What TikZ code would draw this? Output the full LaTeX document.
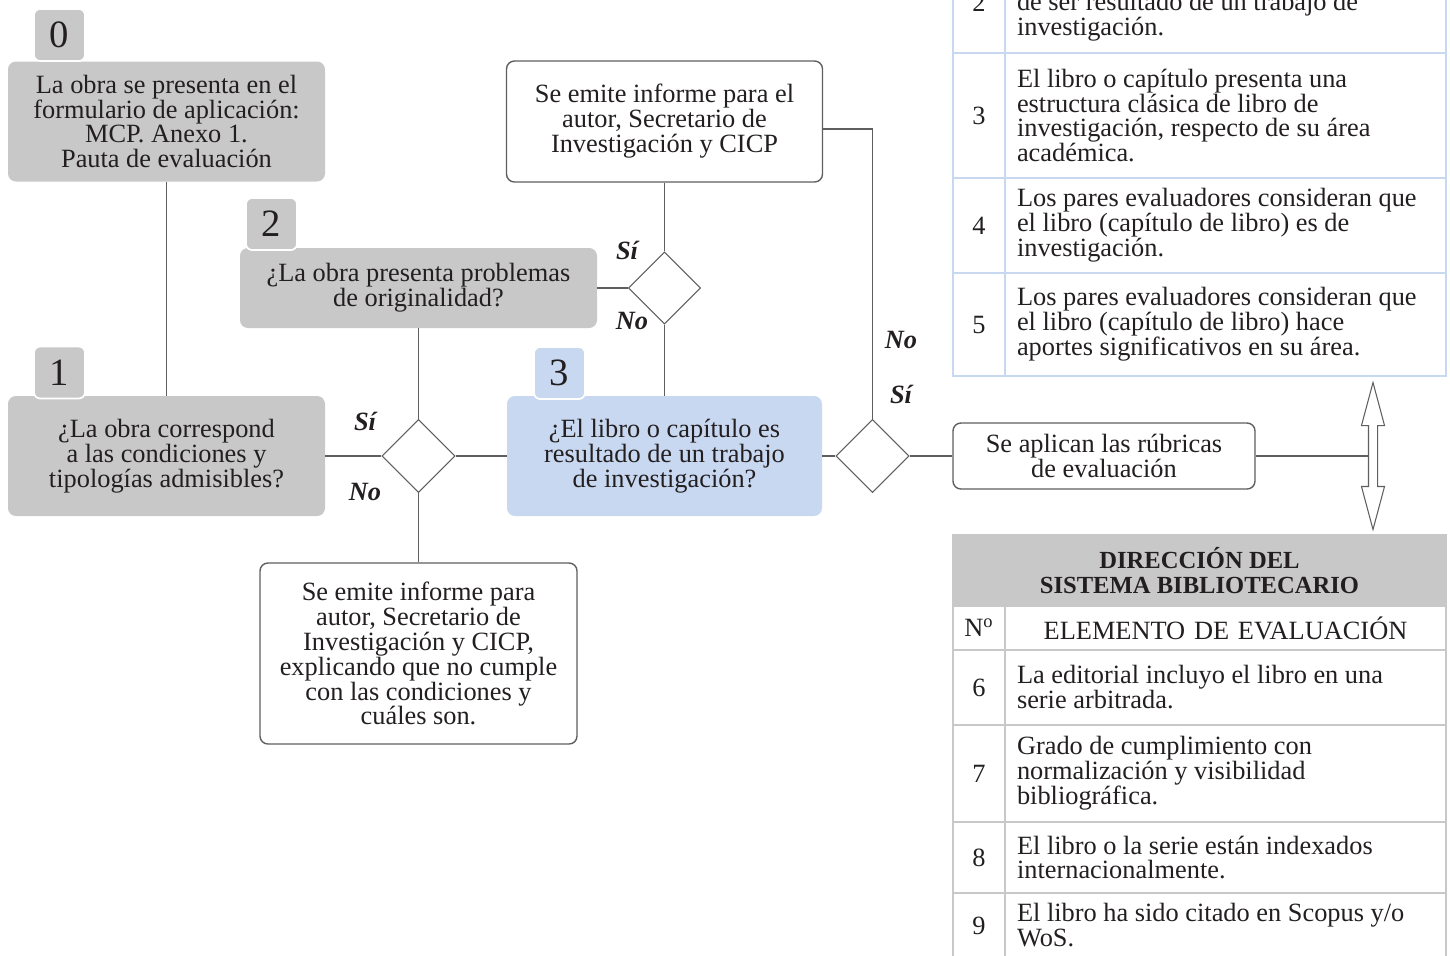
\documentclass[tikz,border=0pt]{standalone}
\usepackage{fontspec}
\setmainfont{Liberation Serif}
\usepackage{xcolor}
\usepackage{tikz}
\usetikzlibrary{shapes.geometric,shapes.arrows,positioning,calc}

\definecolor{gris}{RGB}{200,200,200}
\definecolor{azul}{RGB}{201,216,241}
\definecolor{linea}{RGB}{95,95,95}
\definecolor{tinta}{RGB}{35,31,32}
\newcommand{\cuerpo}{\fontsize{15pt}{14.2pt}\selectfont}

\begin{document}
\begin{tikzpicture}[
  every node/.style={font=\cuerpo, text=tinta},
  caja/.style={rounded corners=4.5pt, minimum width=6.34cm, minimum height=2.4cm, align=center, inner sep=2pt},
  gcaja/.style={caja, fill=gris},
  acaja/.style={caja, fill=azul},
  bcaja/.style={caja, draw=linea, line width=0.8pt, fill=white},
  paso/.style={fill=#1, draw=white, line width=1pt, rounded corners=3.5pt, minimum width=1.02cm, minimum height=1.04cm, inner sep=0, font=\fontsize{22pt}{22pt}\selectfont},
  dec/.style={diamond, draw=linea, line width=0.6pt, fill=white, minimum size=1.46cm, inner sep=0},
  resp/.style={font=\cuerpo\bfseries\itshape},
  con/.style={draw=linea, line width=0.8pt},
  ncelda/.style={draw=#1, line width=1.5pt, anchor=north west, outer sep=0, minimum width=1.04cm, inner sep=0},
  tcelda/.style={draw=#1, line width=1.5pt, anchor=north west, outer sep=0, text width=8.34cm, inner xsep=0.24cm, inner ysep=0, align=flush left},
]
\useasboundingbox (0,0) rectangle (29,-19.1);
\clip (0,0) rectangle (29,-19.1);

% flujo
\node[gcaja] (c0) at (3.33,-2.43) {La obra se presenta en el\\formulario de aplicación:\\MCP. Anexo 1.\\Pauta de evaluación};
\node[paso=gris] (p0) at (1.19,-0.70) {0};
\node[gcaja] (c1) at (3.33,-9.12) {¿La obra correspond\\a las condiciones y\\tipologías admisibles?};
\node[paso=gris] (p1) at (1.19,-7.45) {1};
\node[gcaja, minimum width=7.14cm, minimum height=1.6cm] (c2) at (8.37,-5.76) {¿La obra presenta problemas\\de originalidad?};
\node[paso=gris] (p2) at (5.43,-4.48) {2};
\node[acaja, minimum width=6.3cm] (c3) at (13.29,-9.12) {¿El libro o capítulo es\\resultado de un trabajo\\de investigación?};
\node[paso=azul] (p3) at (11.19,-7.46) {3};
\node[bcaja, minimum width=6.32cm, minimum height=2.42cm] (inf1) at (13.29,-2.43) {Se emite informe para el\\autor, Secretario de\\Investigación y CICP};
\node[bcaja, minimum height=3.62cm] (inf2) at (8.37,-13.07) {Se emite informe para\\autor, Secretario de\\Investigación y CICP,\\explicando que no cumple\\con las condiciones y\\cuáles son.};
\node[bcaja, minimum width=6.04cm, minimum height=1.32cm] (rub) at (22.08,-9.12) {Se aplican las rúbricas\\de evaluación};
\node[dec] (d1) at (8.37,-9.12) {};
\node[dec, minimum size=1.44cm] (d2) at (13.29,-5.76) {};
\node[dec] (d3) at (17.45,-9.12) {};
\node[double arrow, draw=linea, fill=white, line width=0.6pt, shape border rotate=90, minimum height=2.94cm, minimum width=0.44cm, double arrow head extend=0.14cm, double arrow tip angle=30, inner sep=0.08cm] (dbl) at (27.46,-9.12) {};

\draw[con] (c0) -- (c1);
\draw[con] (c1) -- (d1);
\draw[con] (d1) -- (c3);
\draw[con] (d1) -- (c2);
\draw[con] (d1) -- (inf2);
\draw[con] (c2) -- (d2);
\draw[con] (d2) -- (inf1);
\draw[con] (d2) -- (c3);
\draw[con] (c3) -- (d3);
\draw[con] ([yshift=-0.15cm]inf1.east) -| (d3.north);
\draw[con] (d3) -- (rub);
\draw[con] (rub) -- (dbl.west);

\node[resp] (si1) at (7.30,-8.42) {Sí};
\node[resp] (no1) at (7.30,-9.84) {No};
\node[resp] (si2) at (12.54,-5.00) {Sí};
\node[resp] (no2) at (12.64,-6.42) {No};
\node[resp] (no3) at (18.02,-6.80) {No};
\node[resp] (si3) at (18.02,-7.88) {Sí};

% tabla superior
\node[ncelda=azul, minimum height=2cm] (n2) at (19.06,0.94) {2};
\node[tcelda=azul, minimum height=2cm] (t2) at (n2.north east) {\strut\\de ser resultado de un trabajo de\\investigación.};
\node[ncelda=azul, minimum height=2.5cm] (n3) at (n2.south west) {3};
\node[tcelda=azul, minimum height=2.5cm] (t3) at (n3.north east) {El libro o capítulo presenta una\\estructura clásica de libro de\\investigación, respecto de su área\\académica.};
\node[ncelda=azul, minimum height=1.9cm] (n4) at (n3.south west) {4};
\node[tcelda=azul, minimum height=1.9cm] (t4) at (n4.north east) {Los pares evaluadores consideran que\\el libro (capítulo de libro) es de\\investigación.};
\node[ncelda=azul, minimum height=2.06cm] (n5) at (n4.south west) {5};
\node[tcelda=azul, minimum height=2.06cm] (t5) at (n5.north east) {Los pares evaluadores consideran que\\el libro (capítulo de libro) hace\\aportes significativos en su área.};

% tabla inferior
\node[fill=gris, draw=gris, line width=1.5pt, anchor=north west, outer sep=0, minimum width=9.86cm, minimum height=1.42cm, align=center, font=\fontsize{14pt}{14.2pt}\selectfont\bfseries] (tit) at (19.06,-10.70) {DIRECCIÓN DEL\\SISTEMA BIBLIOTECARIO};
\node[ncelda=gris, minimum height=0.88cm] (nn) at (tit.south west) {N\textsuperscript{o}};
\node[tcelda=gris, minimum height=0.88cm, align=center] (tn) at (nn.north east) {ELEMENTO DE EVALUACIÓN};
\node[ncelda=gris, minimum height=1.5cm] (n6) at (nn.south west) {6};
\node[tcelda=gris, minimum height=1.5cm] (t6) at (n6.north east) {La editorial incluyo el libro en una\\serie arbitrada.};
\node[ncelda=gris, minimum height=1.94cm] (n7) at (n6.south west) {7};
\node[tcelda=gris, minimum height=1.94cm] (t7) at (n7.north east) {Grado de cumplimiento con\\normalización y visibilidad\\bibliográfica.};
\node[ncelda=gris, minimum height=1.42cm] (n8) at (n7.south west) {8};
\node[tcelda=gris, minimum height=1.42cm] (t8) at (n8.north east) {El libro o la serie están indexados\\internacionalmente.};
\node[ncelda=gris, minimum height=1.3cm] (n9) at (n8.south west) {9};
\node[tcelda=gris, minimum height=1.3cm] (t9) at (n9.north east) {El libro ha sido citado en Scopus y/o\\WoS.};
\end{tikzpicture}
\end{document}
